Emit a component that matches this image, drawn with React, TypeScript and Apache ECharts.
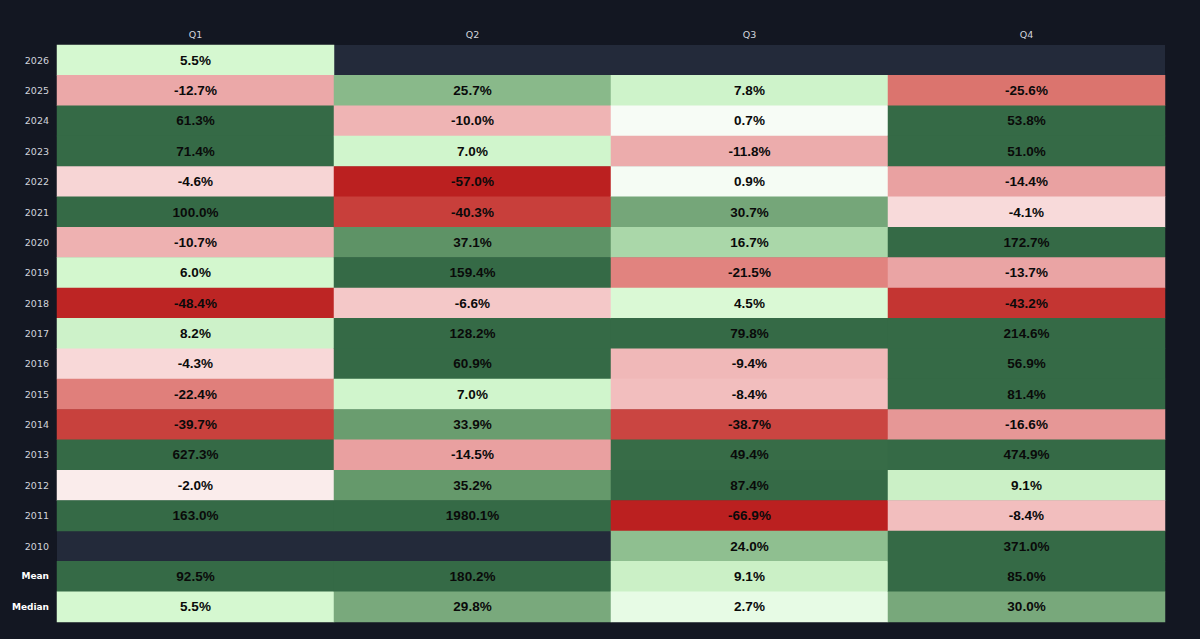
import React, { useEffect, useRef } from "react";
import * as echarts from "echarts";

const quarters = ["Q1", "Q2", "Q3", "Q4"];
const rowLabels = [
  "2026", "2025", "2024", "2023", "2022", "2021", "2020", "2019", "2018",
  "2017", "2016", "2015", "2014", "2013", "2012", "2011", "2010", "Mean", "Median",
];
const q1 = [5.5, -12.7, 61.3, 71.4, -4.6, 100.0, -10.7, 6.0, -48.4, 8.2, -4.3, -22.4, -39.7, 627.3, -2.0, 163.0, null, 92.5, 5.5];
const q2 = [null, 25.7, -10.0, 7.0, -57.0, -40.3, 37.1, 159.4, -6.6, 128.2, 60.9, 7.0, 33.9, -14.5, 35.2, 1980.1, null, 180.2, 29.8];
const q3 = [null, 7.8, 0.7, -11.8, 0.9, 30.7, 16.7, -21.5, 4.5, 79.8, -9.4, -8.4, -38.7, 49.4, 87.4, -66.9, 24.0, 9.1, 2.7];
const q4 = [null, -25.6, 53.8, 51.0, -14.4, -4.1, 172.7, -13.7, -43.2, 214.6, 56.9, 81.4, -16.6, 474.9, 9.1, -8.4, 371.0, 85.0, 30.0];
const columns = [q1, q2, q3, q4];

// colour stops every 5 points from -50 to +50
const colorStops = [
  "#bb2020", "#c22f2c", "#c8403c", "#cf5350", "#d6625e", "#dc7670", "#e38886",
  "#e89e9e", "#efb4b4", "#f7d2d2", "#fcfdfc", "#d6f9d1", "#c8eec4", "#b0dcae",
  "#9dcc9e", "#8cbc8c", "#78a87b", "#669a6c", "#548a5e", "#44794f", "#356a46",
];

export default function App() {
  const ref = useRef<HTMLDivElement>(null);
  useEffect(() => {
    if (!ref.current) return;
    const chart = echarts.init(ref.current, null, { renderer: "svg" });
    const data: any[] = [];
    columns.forEach((col, xi) => {
      col.forEach((v, yi) => {
        if (v !== null) data.push([xi, yi, v]);
      });
    });
    chart.setOption({
      animation: false,
      backgroundColor: "#131722",
      grid: {
        left: 57,
        right: 35,
        top: 45,
        bottom: 17,
        show: true,
        backgroundColor: "#232a3a",
        borderWidth: 0,
      },
      xAxis: {
        type: "category",
        data: quarters,
        position: "top",
        axisLine: { show: false },
        axisTick: { show: false },
        splitLine: { show: false },
        axisLabel: { color: "#d1d4dc", fontSize: 9.5, fontFamily: "DejaVu Sans", margin: 6 },
      },
      yAxis: {
        type: "category",
        data: rowLabels,
        inverse: true,
        axisLine: { show: false },
        axisTick: { show: false },
        splitLine: { show: false },
        axisLabel: {
          margin: 8,
          formatter: (v: string) => (v === "Mean" || v === "Median" ? `{b|${v}}` : `{n|${v}}`),
          rich: {
            n: { color: "#d1d4dc", fontSize: 9.5, fontFamily: "DejaVu Sans" },
            b: { color: "#ffffff", fontSize: 9, fontWeight: "bold", fontFamily: "DejaVu Sans" },
          },
        },
      },
      visualMap: {
        type: "continuous",
        show: false,
        min: -50,
        max: 50,
        dimension: 2,
        inRange: { color: colorStops },
      },
      series: [
        {
          type: "heatmap",
          data,
          itemStyle: { borderWidth: 0 },
          emphasis: { disabled: true },
          label: {
            show: true,
            formatter: (p: any) => `${p.value[2].toFixed(1)}%`,
            color: "#0a0a0a",
            fontSize: 13.5,
            fontWeight: "bold",
            fontFamily: "Liberation Sans",
          },
        },
      ],
    });
    return () => chart.dispose();
  }, []);
  return (
    <div
      ref={ref}
      style={{ position: "fixed", left: 0, top: 0, width: 1200, height: 639 }}
    />
  );
}
